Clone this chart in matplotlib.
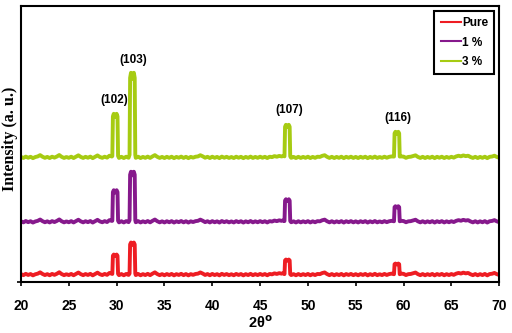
import numpy as np
import matplotlib
matplotlib.use('Agg')
import matplotlib.pyplot as plt

# 2-theta sampling of the background and its noise (shared by all patterns)
two_theta_bg = np.arange(20.0, 70.001, 0.25)
background = [
    0.4, -0.6, 0.7, -0.4, 0.5, -0.8, 0.3, 0.9, 2.2, 0.6,
    -0.5, 0.4, -0.7, 0.6, -0.3, 0.8, 2.3, 0.5, -0.6, 0.3,
    -0.5, 0.6, -0.7, 0.7, 2.0, 0.4, -0.6, 0.5, -0.4, 0.7,
    -0.8, 0.6, 1.9, 0.3, -0.5, 0.6, -0.3, 1.6, 0.8, 0.5,
    0.4, -0.6, 0.5, -0.7, 0.6, -0.4, 0.3, 0.2, -0.5, 0.6,
    -0.7, 0.4, -0.5, 0.7, -0.6, 0.9, 2.2, 0.5, -0.6, 0.4,
    -0.7, 0.5, -0.5, 0.6, -0.8, 0.4, -0.4, 0.7, -0.6, 0.5,
    -0.8, 0.4, -0.3, 0.6, 0.9, 2.1, 1.0, -0.4, 0.5, -0.7,
    0.6, -0.5, 0.4, -0.8, 0.7, -0.4, 0.5, -0.6, 0.3, -0.7,
    0.6, -0.4, 0.5, -0.8, 0.4, -0.5, 0.7, -0.6, 0.4, -0.5,
    0.6, -0.4, 0.5, -0.7, 0.6, 0.2, 1.2, 0.6, 1.4, 0.9,
    1.5, 0.5, 0.3, -0.5, 0.4, -0.7, 0.5, -0.6, 0.4, -0.5,
    0.6, -0.7, 0.4, -0.5, 0.6, 0.4, 1.5, 2.1, 0.5, -0.6,
    0.5, -0.7, 0.4, -0.5, 0.6, -0.8, 0.5, -0.4, 0.6, -0.6,
    0.4, -0.7, 0.5, -0.4, 0.6, -0.8, 0.4, -0.5, 0.7, -0.6,
    0.3, -0.5, 0.6, -0.4, 0.5, 0.9, 0.4, 0.2, 0.3, 0.9,
    0.7, -0.5, 0.4, 0.6, 1.3, 2.0, 0.4, -0.6, 0.5, -0.7,
    0.4, -0.5, 0.6, -0.8, 0.5, -0.4, 0.6, -0.7, 0.4, -0.5,
    0.5, -0.3, 0.9, 1.6, 1.0, 1.9, 1.2, 1.6, 0.3, -0.6,
    0.5, -0.7, 0.4, -0.5, 0.6, -0.8, 0.5, 0.8, 1.6, 0.4,
    -0.4,
]

# reflections
hkl = ['(102)', '(103)', '(107)', '(116)']
peak_pos = [29.85, 31.65, 47.85, 59.3]
peak_dx = [-0.3, -0.24, -0.15, -0.05, 0.05, 0.15, 0.24, 0.3]
peak_shape = [0.03, 0.94, 1.0, 0.93, 0.93, 1.0, 0.94, 0.03]

samples = ['Pure', '1 %', '3 %']
colors = ['#ee1d23', '#86198c', '#a6cb12']
offsets = [7.5, 60.3, 124.7]
peak_heights = [
    [20, 32, 15, 11],
    [31.5, 50, 22.5, 15.5],
    [43.5, 84.5, 32.5, 25.5],
]

# label positions (2theta, intensity)
label_x = [29.8, 31.7, 48.0, 59.4]
label_y = [182, 222, 172, 164]


def build_pattern(heights, offset):
    xs, ys = [], []
    for x, b in zip(two_theta_bg, background):
        if any(abs(x - p) <= 0.31 for p in peak_pos):
            continue
        xs.append(x)
        ys.append(offset + b)
    for p, h in zip(peak_pos, heights):
        for dx, f in zip(peak_dx, peak_shape):
            xs.append(p + dx)
            ys.append(offset + h * f)
    order = np.argsort(xs)
    return np.array(xs)[order], np.array(ys)[order]


fig = plt.figure(figsize=(5.12, 3.33), dpi=100)
ax = fig.add_axes([0.041, 0.153, 0.934, 0.829])

for name, c, off, hts in zip(samples, colors, offsets, peak_heights):
    x, y = build_pattern(hts, off)
    ax.plot(x, y, color=c, lw=2.8, label=name, solid_joinstyle='round')

for lab, lx, ly in zip(hkl, label_x, label_y):
    ax.text(lx, ly, lab, ha='center', va='center', fontsize=8.5,
            fontweight='bold', family='Liberation Sans')

ax.set_xlim(20, 70)
ax.set_ylim(0, 276)
ax.set_xticks(np.arange(20, 71, 5))
ax.set_yticks([0])
ax.set_yticklabels([])
ax.tick_params(axis='x', direction='out', length=3, width=1.2, pad=9)
ax.tick_params(axis='y', direction='out', length=3, width=1.2)
for lbl in ax.get_xticklabels():
    lbl.set_fontsize(10)
    lbl.set_fontweight('bold')
    lbl.set_family('Liberation Sans')
for sp in ax.spines.values():
    sp.set_linewidth(1.5)

ax.set_xlabel(r'2θ$^{\mathbf{o}}$', fontsize=10.5, fontweight='bold',
              family='Liberation Sans', labelpad=1.5)
ax.set_ylabel('Intensity (a. u.)', fontsize=11.5, fontweight='bold',
              family='Liberation Serif')
ax.yaxis.set_label_coords(-0.006, 0.52)

leg = ax.legend(loc='upper right', fancybox=False, framealpha=1,
                edgecolor='black', handlelength=1.7, handletextpad=0.1,
                borderpad=0.55, labelspacing=0.62, borderaxespad=0.4,
                prop={'family': 'Liberation Sans', 'weight': 'bold', 'size': 8.5})
leg.get_frame().set_linewidth(1.5)
for h in leg.get_lines():
    h.set_linewidth(1.5)

fig.savefig('out.png', dpi=100)
